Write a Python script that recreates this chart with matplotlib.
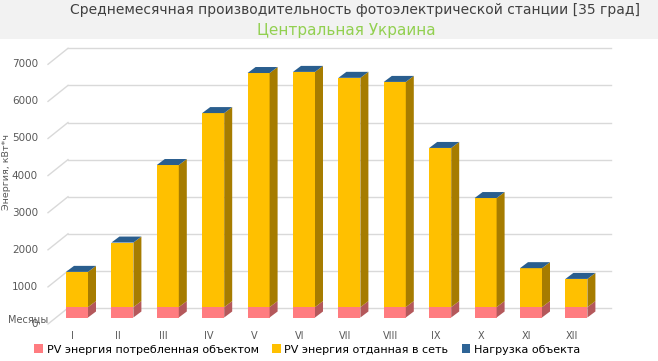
import matplotlib
matplotlib.use("Agg")
import matplotlib.pyplot as plt
from matplotlib.patches import Polygon, Rectangle, Patch

# ---- data ----
months = ["I", "II", "III", "IV", "V", "VI", "VII", "VIII", "IX", "X", "XI", "XII"]
pv_self = [280, 280, 280, 280, 280, 280, 280, 280, 280, 280, 280, 280]
pv_grid = [950, 1740, 3830, 5230, 6310, 6340, 6180, 6070, 4290, 2940, 1050, 760]
load = [0, 0, 0, 0, 0, 0, 0, 0, 0, 0, 0, 0]
yticks = [0, 1000, 2000, 3000, 4000, 5000, 6000, 7000]

title = "Среднемесячная производительность фотоэлектрической станции [35 град]"
subtitle = "Центральная Украина"
ylabel = "Энергия, кВт*ч"
xlabel = "Месяцы"
series_names = ["PV энергия потребленная объектом", "PV энергия отданная в сеть", "Нагрузка объекта"]

# ---- style ----
W, H = 658, 361
PX_X0, PX_DX = 77.0, 45.4      # bar centre of first bar, px per category
PX_Y0, PX_PER_V = 317.5, 0.0371  # baseline px, px per kWh
BW = 22 / PX_DX
DX, DY = 8 / PX_DX, 6 / PX_PER_V
c_front = ["#FF7C80", "#FFC000", "#2E6496"]
c_side = ["#B4585B", "#A67C00", "#1F4A70"]
c_top = ["#FF9A9D", "#FFD24D", "#2A5E8E"]
grid_c = "#D9D9D9"
txt_c = "#595959"

plt.rcParams["font.family"] = ["DejaVu Sans"]
fig = plt.figure(figsize=(W / 100, H / 100), dpi=100)
ax = fig.add_axes([0, 0, 1, 1])
ax.set_xlim((0 - PX_X0) / PX_DX, (W - PX_X0) / PX_DX)
ax.set_ylim((PX_Y0 - H) / PX_PER_V, PX_Y0 / PX_PER_V)
ax.axis("off")

def px_x(p):
    return (p - PX_X0) / PX_DX

def dv(px):
    return px / PX_PER_V

# title band
fig.patches.append(Rectangle((0, 1 - 39 / H), 1, 39 / H, transform=fig.transFigure,
                             facecolor="#F2F2F2", edgecolor="none", zorder=0))
fig.text(0.54, 1 - 10 / H, title, ha="center", va="center", fontsize=10, color="#404040")
fig.text(0.527, 1 - 30 / H, subtitle, ha="center", va="center", fontsize=11, color="#92D050")

# back wall gridlines and left wall slants
back_off = dv(9.5)
front_off = -dv(6.5)
for v in yticks:
    ax.plot([px_x(68), px_x(611)], [v + back_off, v + back_off], color=grid_c, lw=1, zorder=1)
    ax.plot([px_x(48), px_x(68)], [v + front_off, v + back_off], color=grid_c, lw=1, zorder=1)
    ax.text(px_x(38), v + front_off, f"{v}", ha="right", va="center", fontsize=7.5, color=txt_c)

# bars (front faces via ax.bar, depth faces as polygons)
x = list(range(len(months)))
series = [pv_self, pv_grid, load]
bottoms = [0.0] * len(months)
for s_i, vals in enumerate(series):
    ax.bar(x, vals, width=BW, bottom=bottoms, color=c_front[s_i], edgecolor="none", zorder=3)
    for i, v in enumerate(vals):
        b = bottoms[i]
        xr = i + BW / 2
        if v > 0:
            ax.add_patch(Polygon([(xr, b), (xr + DX, b + DY), (xr + DX, b + v + DY), (xr, b + v)],
                                 closed=True, facecolor=c_side[s_i], edgecolor="none", zorder=3))
        bottoms[i] = b + v
# top face coloured by top series
for i in x:
    t = bottoms[i]
    xr = i + BW / 2
    xl = i - BW / 2
    ax.add_patch(Polygon([(xl, t), (xr, t), (xr + DX, t + DY), (xl + DX, t + DY)],
                         closed=True, facecolor=c_top[2], edgecolor="none", zorder=4))

# month labels
for i, m in enumerate(months):
    ax.text(i - 0.09, -dv(18.5), m, ha="center", va="center", fontsize=7, color=txt_c)

ax.text(px_x(8), -dv(2.5), xlabel, ha="left", va="center", fontsize=7, color=txt_c)
fig.text(7 / W, 1 - 172 / H, ylabel, rotation=90, ha="center", va="center", fontsize=6.8, color=txt_c)

handles = [Patch(facecolor=c, edgecolor="none") for c in c_front]
fig.legend(handles, series_names, loc="center", bbox_to_anchor=(0.467, 1 - 349.5 / H), ncol=3,
           frameon=False, fontsize=8, handlelength=0.8, handleheight=0.8, handletextpad=0.3,
           columnspacing=1.2, labelcolor="#000000", borderpad=0.1)

fig.savefig("out.png", dpi=100)
